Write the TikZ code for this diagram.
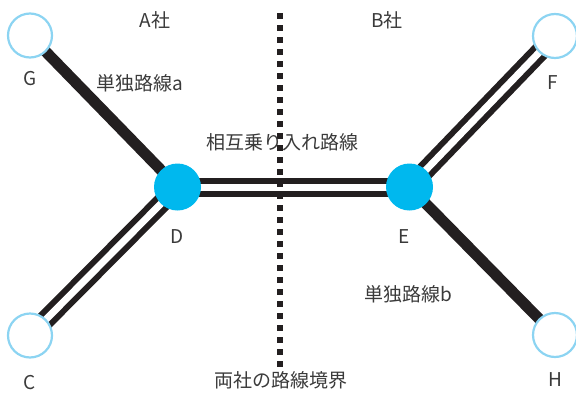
\documentclass[tikz,border=0pt]{standalone}
\usepackage{fontspec}
\setmainfont{Noto Sans CJK JP}
\usetikzlibrary{backgrounds}
\definecolor{ink}{HTML}{231F20}
\definecolor{txt}{HTML}{3A3A3A}
\definecolor{hub}{HTML}{00B8EE}
\definecolor{ring}{HTML}{8CD4F2}
\tikzset{
  endst/.style={circle, draw=ring, line width=2.2pt, fill=white, minimum size=44pt, inner sep=0pt},
  hubst/.style={circle, fill=hub, minimum size=47pt, inner sep=0pt},
  single/.style={draw=ink, line width=11pt},
  twin/.style={draw=ink, line width=6pt, double=white, double distance=7pt},
  border/.style={draw=ink, line width=6pt, dash pattern=on 6pt off 6pt},
  lbl/.style={text=txt, font=\fontsize{19}{22}\selectfont, inner sep=0pt}
}
\begin{document}
\begin{tikzpicture}[x=1pt,y=-1pt]
\useasboundingbox (0,0) rectangle (576,394);
\node[endst] (g) at (30,35.5) {};
\node[endst] (c) at (30,335.5) {};
\node[endst] (f) at (555,36) {};
\node[endst] (h) at (555,335) {};
\node[hubst] (d) at (177.5,187) {};
\node[hubst] (e) at (409.5,187) {};
\coordinate (btop) at (280,13);
\coordinate (bbot) at (280,369);
\begin{pgfonlayer}{background}
\draw[single] (g.center) -- (d.center);
\draw[single] (h.center) -- (e.center);
\draw[twin] (c.center) -- (d.center);
\draw[twin] (f.center) -- (e.center);
\draw[twin] (d.center) -- (e.center);
\draw[border] (btop) -- (bbot);
\end{pgfonlayer}
\node[lbl] (la) at (155,20) {A社};
\node[lbl] (lb) at (387,20) {B社};
\node[lbl] (lg) at (30,79) {G};
\node[lbl] (lc) at (30,383) {C};
\node[lbl] (lf) at (553,83) {F};
\node[lbl] (lh) at (555,380) {H};
\node[lbl] (ld) at (177,237) {D};
\node[lbl] (le) at (404,237) {E};
\node[lbl] (sa) at (140,83) {単独路線a};
\node[lbl] (sb) at (408,294) {単独路線b};
\node[lbl] (mu) at (282,142) {相互乗り入れ路線};
\node[lbl] (bd) at (281,380) {両社の路線境界};
\end{tikzpicture}
\end{document}
